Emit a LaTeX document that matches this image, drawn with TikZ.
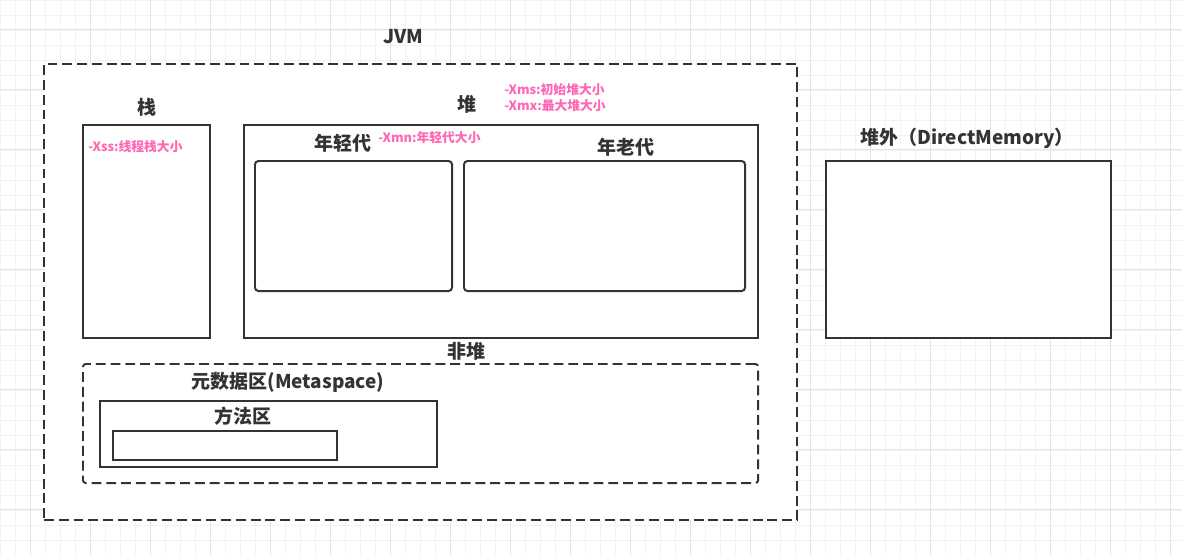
\documentclass[tikz,border=0pt]{standalone}
\usepackage{fontspec}
\setmainfont{Noto Sans CJK SC}
\usetikzlibrary{positioning}
\definecolor{linegray}{HTML}{333333}
\definecolor{memopink}{HTML}{FF66B3}
\definecolor{gridminor}{HTML}{F3F3F3}
\definecolor{gridmajor}{HTML}{E4E4E4}
\begin{document}
\begin{tikzpicture}[
    x=0.025cm, y=-0.025cm,
    region/.style={rectangle, draw=linegray, line width=1.4pt, fill=white, inner sep=0pt, anchor=north west},
    dashbox/.style={region, dash pattern=on 7pt off 3.5pt},
    genbox/.style={region, rounded corners=2.5pt},
    title/.style={font=\bfseries\fontsize{13.5}{15}\selectfont, text=linegray},
    memo/.style={font=\bfseries\fontsize{9.1}{10}\selectfont, text=memopink, inner sep=0pt, anchor=west}
]
\useasboundingbox (0,0) rectangle (1182,555);

% background grid
\draw[gridminor, line width=0.6pt, step=0.375cm] (0,0) grid (1182,555);
\draw[gridmajor, line width=0.6pt, step=1.5cm, shift={(30,29)}] (-30,-29) grid (1152,526);

% JVM
\node[dashbox, minimum width=18.825cm, minimum height=11.4cm] (jvm) at (43,63) {};
\node[title] (jvmlabel) at (403,37) {JVM};

% stack
\node[region, minimum width=3.175cm, minimum height=5.325cm] (stack) at (82,124) {};
\node[title, above=2pt of stack] (stacklabel) {栈};
\node[memo] (xss) at (88,147) {-Xss:线程栈大小};

% heap
\node[region, minimum width=12.85cm, minimum height=5.325cm] (heap) at (243,124) {};
\node[title] (heaplabel) at (467,104) {堆};
\node[memo] (xms) at (504,90) {-Xms:初始堆大小};
\node[memo] (xmx) at (504,106) {-Xmx:最大堆大小};

\node[genbox, minimum width=4.925cm, minimum height=3.25cm] (young) at (254,160) {};
\node[title] (younglabel) at (343,143) {年轻代};
\node[memo] (xmn) at (378,138) {-Xmn:年轻代大小};

\node[genbox, minimum width=7.025cm, minimum height=3.25cm] (old) at (463,160) {};
\node[title] (oldlabel) at (626,147) {年老代};

% non-heap
\node[dashbox, rounded corners=2pt, minimum width=16.875cm, minimum height=2.975cm] (nonheap) at (82,363) {};
\node[title] (nonheaplabel) at (466,351) {非堆};

\node[region, minimum width=8.425cm, minimum height=1.65cm] (meta) at (99,400) {};
\node[title] (metalabel) at (288,382) {元数据区(Metaspace)};
\node[region, minimum width=5.6cm, minimum height=0.725cm] (method) at (112,430) {};
\node[title] (methodlabel) at (243,416) {方法区};

% off-heap
\node[region, minimum width=7.125cm, minimum height=4.425cm] (direct) at (825,160) {};
\node[title] (directlabel) at (967,138) {堆外（DirectMemory）};

\end{tikzpicture}
\end{document}
